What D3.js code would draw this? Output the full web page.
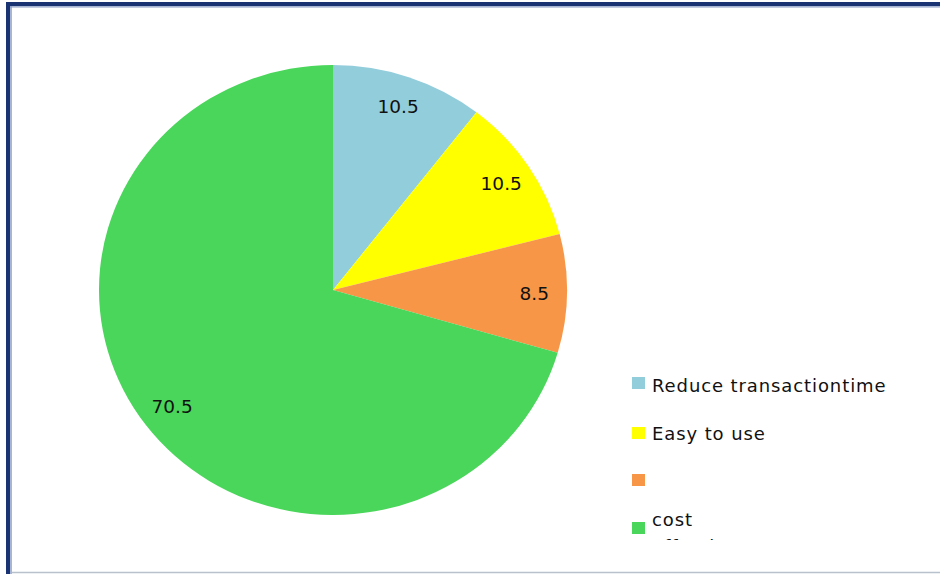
<!DOCTYPE html>
<html>
<head>
<meta charset="utf-8">
<script src="https://cdn.jsdelivr.net/npm/d3@7"></script>
<style>
  html, body { margin: 0; padding: 0; background: #ffffff; }
  svg { display: block; }
</style>
</head>
<body>
<svg id="chart" width="940" height="574"></svg>
<script>
// Reasons given, in drawing order (clockwise from 12 o'clock)
const categories = ["Reduce transactiontime", "Easy to use", "", "cost"];
const values = [10.5, 10.5, 8.5, 70.5];
const colors = ["#92cddc", "#ffff00", "#f79646", "#49d65a"];
const legendSecondLine = ["", "", "", "effective"];

const svg = d3.select("#chart");
const W = 940, H = 574;

// Frame
svg.append("rect").attr("x", 0).attr("y", 0).attr("width", W).attr("height", H).attr("fill", "#fff");
svg.append("line").attr("x1", 12).attr("x2", W).attr("y1", 572.5).attr("y2", 572.5)
  .attr("stroke", "#b9c1cc").attr("stroke-width", 1.5);
svg.append("line").attr("x1", 8).attr("x2", 8).attr("y1", 2).attr("y2", H)
  .attr("stroke", "#1a3473").attr("stroke-width", 4);
svg.append("line").attr("x1", 11).attr("x2", 11).attr("y1", 6).attr("y2", H)
  .attr("stroke", "#8a9cc4").attr("stroke-width", 1.5);
svg.append("line").attr("x1", 6).attr("x2", W).attr("y1", 4).attr("y2", 4)
  .attr("stroke", "#1a3473").attr("stroke-width", 4);
svg.append("line").attr("x1", 10).attr("x2", W).attr("y1", 6.8).attr("y2", 6.8)
  .attr("stroke", "#8a9cc4").attr("stroke-width", 1.2);

// Pie (slightly wider than tall)
const cx = 333, cy = 290, R = 225, sx = 1.04;
const pie = d3.pie().sort(null).value(d => d)(values);
const arc = d3.arc().innerRadius(0).outerRadius(R);
const labelArc = d3.arc().innerRadius(R * 0.86).outerRadius(R * 0.86);

const g = svg.append("g").attr("transform", `translate(${cx},${cy}) scale(${sx},1)`);
g.selectAll("path").data(pie).join("path")
  .attr("d", arc)
  .attr("fill", (d, i) => colors[i]);

svg.selectAll("text.val").data(pie).join("text")
  .attr("class", "val")
  .attr("x", d => cx + labelArc.centroid(d)[0] * sx)
  .attr("y", d => cy + labelArc.centroid(d)[1])
  .attr("dy", "0.35em")
  .attr("text-anchor", "middle")
  .attr("font-family", "DejaVu Sans, Verdana, sans-serif")
  .attr("font-size", 18.5)
  .attr("fill", "#111")
  .text(d => d.value);

// Legend (the last entry wraps to a second line that is cut by the plot area)
const clip = svg.append("clipPath").attr("id", "legclip");
clip.append("rect").attr("x", 600).attr("y", 0).attr("width", 340).attr("height", 540);

const swatchTop = [377, 427, 474, 522];
const textBase = [392, 440, 488, 526];
const leg = svg.append("g").attr("clip-path", "url(#legclip)");
const items = leg.selectAll("g").data(categories).join("g");
items.append("rect")
  .attr("x", 632).attr("y", (d, i) => swatchTop[i])
  .attr("width", 13).attr("height", 12)
  .attr("fill", (d, i) => colors[i]);
items.append("text")
  .attr("x", 652).attr("y", (d, i) => textBase[i])
  .attr("font-family", "DejaVu Sans, Verdana, sans-serif")
  .attr("font-size", 18)
  .attr("letter-spacing", 0.9)
  .attr("fill", "#111")
  .text(d => d);
items.filter((d, i) => legendSecondLine[i] !== "")
  .append("text")
  .attr("x", 652).attr("y", textBase[3] + 27)
  .attr("font-family", "DejaVu Sans, Verdana, sans-serif")
  .attr("font-size", 18)
  .attr("letter-spacing", 0.9)
  .attr("fill", "#111")
  .text(legendSecondLine[3]);
</script>
</body>
</html>
